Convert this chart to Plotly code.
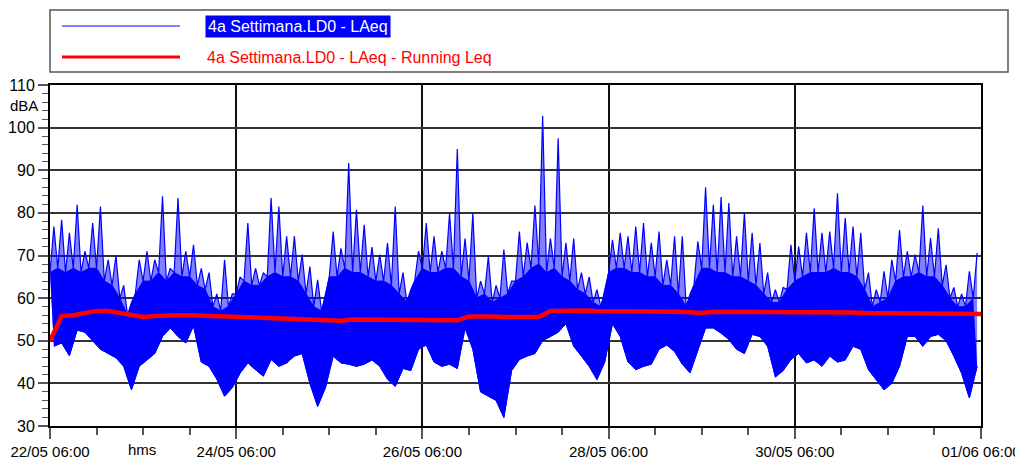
import numpy as np
import pandas as pd
import plotly.graph_objects as go

# ---------------- data ----------------
start = pd.Timestamp("2023-05-22 06:00")
end = pd.Timestamp("2023-06-01 06:00")

# LAeq per 2-hour bin: spike maximum, top of the dense band, minimum (dBA)
laeq_hi = [76.8, 78.4, 75.3, 81.9, 71.0, 77.6, 81.5, 69.0, 70.0, 63.0,
           59.0, 69.0, 71.0, 69.0, 83.9, 67.0, 83.5, 71.0, 72.5, 67.0,
           66.0, 61.0, 69.0, 61.0, 65.0, 77.6, 67.0, 66.0, 83.5, 81.5,
           74.5, 74.5, 70.2, 67.4, 64.3, 60.4, 75.6, 71.7, 91.7, 80.7,
           77.2, 72.0, 70.2, 72.9, 81.5, 66.0, 62.0, 71.0, 77.6, 74.5,
           71.0, 79.9, 95.0, 74.0, 79.9, 64.0, 69.8, 63.0, 71.4, 64.0,
           75.6, 73.0, 81.7, 102.8, 74.0, 97.5, 73.0, 74.0, 66.0, 65.0,
           62.0, 61.0, 73.7, 75.3, 74.5, 76.8, 77.6, 73.0, 75.6, 69.0,
           74.5, 74.5, 61.0, 73.3, 86.0, 81.9, 83.7, 82.3, 74.5, 80.0,
           75.3, 72.9, 66.0, 62.0, 62.5, 72.5, 72.1, 75.3, 81.1, 75.3,
           75.6, 84.6, 78.8, 76.8, 75.3, 66.0, 62.0, 66.3, 69.0, 76.0,
           71.0, 70.2, 81.7, 74.1, 76.4, 67.8, 62.5, 61.0, 66.3, 70.6]
laeq_mid = [66, 67, 66, 67, 66, 67, 67, 64, 63, 60,
            56, 61, 64, 64, 66, 64, 66, 65, 65, 63,
            62, 58, 57, 58, 61, 64, 63, 63, 65, 66,
            65, 65, 64, 61, 58, 57, 65, 65, 67, 66,
            66, 65, 64, 64, 63, 61, 59, 64, 67, 66,
            66, 67, 67, 65, 64, 60, 61, 59, 60, 61,
            64, 65, 67, 68, 66, 67, 65, 64, 62, 61,
            59, 58, 66, 67, 67, 66, 66, 65, 65, 63,
            63, 61, 58, 63, 67, 67, 66, 66, 65, 65,
            64, 63, 61, 59, 59, 62, 64, 65, 66, 66,
            66, 67, 66, 66, 65, 62, 58, 59, 60, 64,
            65, 65, 66, 65, 65, 63, 60, 58, 58, 60]
laeq_lo = [48.7, 49.5, 46.5, 52.5, 52.0, 50.0, 48.0, 47.0, 46.0, 44.0,
           38.5, 44.0, 45.5, 47.0, 51.0, 53.0, 51.0, 49.5, 53.5, 45.0,
           44.0, 41.0, 37.0, 39.0, 42.4, 44.8, 43.2, 41.7, 45.6, 44.0,
           44.8, 46.4, 47.0, 40.0, 34.6, 39.0, 46.4, 44.8, 44.5, 44.0,
           44.5, 45.5, 44.0, 41.0, 39.3, 43.5, 43.0, 48.0, 49.0, 45.0,
           44.0, 44.5, 43.5, 53.0, 48.0, 38.0, 37.0, 36.0, 32.0, 43.0,
           45.6, 46.4, 47.0, 50.0, 51.0, 52.0, 54.0, 48.7, 46.4, 44.0,
           40.9, 45.0, 54.0, 51.0, 45.0, 43.2, 44.0, 44.5, 48.0, 49.0,
           47.5, 44.5, 42.5, 48.0, 53.0, 53.0, 51.8, 50.3, 48.0, 47.0,
           51.5, 51.0, 48.7, 41.5, 43.0, 45.6, 47.0, 44.8, 45.5, 44.0,
           46.4, 45.0, 45.5, 48.7, 48.0, 43.2, 40.9, 38.5, 40.0, 44.0,
           51.0, 51.0, 48.7, 51.0, 51.5, 50.0, 46.4, 42.4, 36.6, 44.0]

# Running Leq every 3 hours (dBA)
running_leq = [50.0, 55.8, 56.0, 56.6, 57.0, 57.0, 56.6, 56.0, 55.6, 55.8,
               56.0, 56.0, 56.0, 55.9, 55.7, 55.5, 55.4, 55.3, 55.2, 55.1,
               55.0, 55.0, 55.0, 54.8, 54.7, 54.7, 55.0, 55.0, 55.0, 55.0,
               55.0, 54.9, 54.8, 54.8, 54.8, 54.8, 55.7, 55.8, 55.7, 55.6,
               55.6, 55.6, 55.6, 57.0, 57.1, 57.1, 57.1, 57.0, 57.0, 57.0,
               57.0, 56.9, 56.9, 56.9, 56.8, 56.7, 56.5, 56.8, 56.8, 56.8,
               56.8, 56.8, 56.7, 56.7, 56.7, 56.6, 56.6, 56.6, 56.6, 56.6,
               56.5, 56.5, 56.5, 56.5, 56.5, 56.4, 56.4, 56.4, 56.3, 56.3,
               56.3]

series_names = ["4a Settimana.LD0 - LAeq", "4a Settimana.LD0 - LAeq - Running Leq"]

# ---------------- build traces ----------------
n = len(laeq_hi)
t_bin = start + pd.to_timedelta(np.arange(n) * 2, unit="h")
t_peak = t_bin + pd.Timedelta(hours=1)

x_zig = []
y_zig = []
for i in range(n):
    x_zig += [t_bin[i], t_peak[i]]
    y_zig += [laeq_mid[i], laeq_hi[i]]

t_run = start + pd.to_timedelta(np.arange(len(running_leq)) * 3, unit="h")

BLUE = "#0000FF"
RED = "#FF0000"
FONT = "Liberation Sans, Arial, sans-serif"

fig = go.Figure()
# spike region (dense thin spikes -> lighter fill) from minimum to maxima
fig.add_trace(go.Scatter(x=t_peak, y=laeq_lo, mode="lines",
                         line=dict(color=BLUE, width=1), showlegend=False,
                         hoverinfo="skip"))
fig.add_trace(go.Scatter(x=x_zig, y=y_zig, mode="lines", fill="tonexty",
                         fillcolor="rgba(0,0,255,0.5)",
                         line=dict(color=BLUE, width=1.2),
                         name=series_names[0], showlegend=False))
# dense core: minimum -> top of the dense band
fig.add_trace(go.Scatter(x=t_peak, y=laeq_lo, mode="lines",
                         line=dict(color=BLUE, width=1), showlegend=False,
                         hoverinfo="skip"))
fig.add_trace(go.Scatter(x=t_bin, y=laeq_mid, mode="lines", fill="tonexty",
                         fillcolor=BLUE, line=dict(color=BLUE, width=1),
                         showlegend=False, hoverinfo="skip"))
fig.add_trace(go.Scatter(x=t_run, y=running_leq, mode="lines",
                         line=dict(color=RED, width=4.5),
                         name=series_names[1], showlegend=False))

# ---------------- layout ----------------
# (the page adds an 8 px body margin, so the figure is 8 px smaller)
fig.update_layout(
    width=1015, height=453,
    margin=dict(l=42, r=42, t=77, b=35),
    paper_bgcolor="white", plot_bgcolor="white",
    font=dict(family=FONT, size=15, color="black"),
    showlegend=False,
    xaxis=dict(
        type="date", range=[start, end], automargin=False,
        tick0=start, dtick=2 * 86400000, tickformat="%d/%m %H:%M",
        ticks="outside", ticklen=11, tickwidth=1.5, tickcolor="#555",
        showgrid=True, gridcolor="#111", gridwidth=1.5,
        showline=True, linecolor="black", linewidth=2, mirror=True,
        zeroline=False, tickfont=dict(size=15),
        minor=dict(tick0=start, dtick=12 * 3600000, ticks="outside",
                   ticklen=7, tickwidth=1.5, tickcolor="#555", showgrid=False),
    ),
    yaxis=dict(
        range=[30, 110], tick0=30, dtick=10, automargin=False,
        ticks="outside", ticklen=10, tickwidth=1.5, tickcolor="#555",
        showgrid=True, gridcolor="#333", gridwidth=2,
        showline=True, linecolor="black", linewidth=2, mirror=True,
        zeroline=False, tickfont=dict(size=16),
        minor=dict(dtick=2, ticks="outside", ticklen=6, tickwidth=1.2,
                   tickcolor="#555", showgrid=False),
    ),
)

# manual legend box (like the reference)
fig.add_shape(type="rect", xref="paper", yref="paper",
              x0=0, x1=1.029, y0=1.038, y1=1.220,
              line=dict(color="#555", width=1.5), fillcolor="white")
fig.add_shape(type="line", xref="paper", yref="paper",
              x0=0.0129, x1=0.1396, y0=1.173, y1=1.173,
              line=dict(color=BLUE, width=1.2))
fig.add_shape(type="line", xref="paper", yref="paper",
              x0=0.0129, x1=0.1396, y0=1.082, y1=1.082,
              line=dict(color=RED, width=3))
fig.add_annotation(xref="paper", yref="paper", x=0.1665, y=1.173,
                   xanchor="left", yanchor="middle", showarrow=False,
                   text=series_names[0], bgcolor=BLUE, borderpad=2,
                   font=dict(family=FONT, size=16, color="white"))
fig.add_annotation(xref="paper", yref="paper", x=0.1665, y=1.082,
                   xanchor="left", yanchor="middle", showarrow=False,
                   text=series_names[1],
                   font=dict(family=FONT, size=16, color=RED))

# axis unit labels
fig.add_annotation(xref="paper", yref="y", x=-0.011, y=105.3,
                   xanchor="right", yanchor="middle", showarrow=False,
                   text="dBA", font=dict(family=FONT, size=15, color="black"))
fig.add_annotation(xref="paper", yref="paper", x=0.0988, y=-0.068,
                   xanchor="center", yanchor="middle", showarrow=False,
                   text="hms", font=dict(family=FONT, size=15, color="black"))

fig.write_html("out.html")
